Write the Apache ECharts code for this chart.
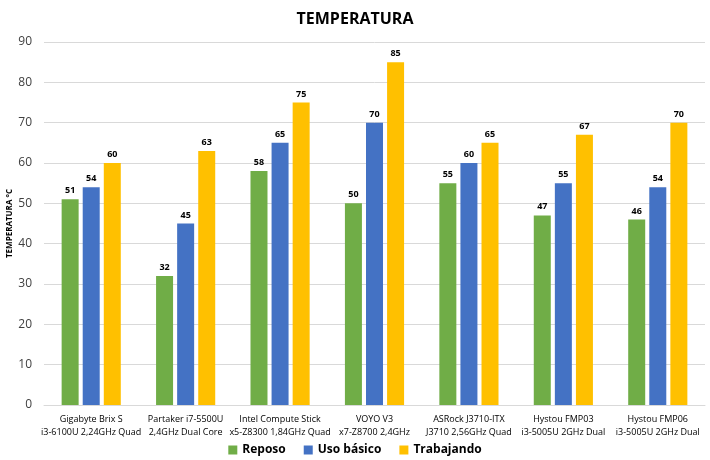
<!DOCTYPE html>
<html><head><meta charset="utf-8">
<script src="https://cdn.jsdelivr.net/npm/echarts@6/dist/echarts.min.js"></script>
<style>html,body{margin:0;padding:0;background:#fff}#c{width:710px;height:460px}</style>
</head><body><div id="c"></div>
<script>
const categories = [
  "Gigabyte Brix S\ni3-6100U 2,24GHz Quad",
  "Partaker i7-5500U\n2,4GHz Dual Core",
  "Intel Compute Stick\nx5-Z8300 1,84GHz Quad",
  "VOYO V3\nx7-Z8700 2,4GHz",
  "ASRock J3710-ITX\nJ3710 2,56GHz Quad",
  "Hystou FMP03\ni3-5005U 2GHz Dual",
  "Hystou FMP06\ni3-5005U 2GHz Dual"
];
const reposo = [51, 32, 58, 50, 55, 47, 46];
const usoBasico = [54, 45, 65, 70, 60, 55, 54];
const trabajando = [60, 63, 75, 85, 65, 67, 70];
const seriesNames = ["Reposo", "Uso básico", "Trabajando"];
const colors = ["#70AD47", "#4472C4", "#FFC000"];

const font = "'Open Sans', 'Noto Sans', sans-serif";
const chart = echarts.init(document.getElementById('c'));
const lbl = {show: true, position: 'top', fontSize: 9, fontWeight: 'bold', color: '#000', fontFamily: font, distance: 4};
chart.setOption({
  animation: false,
  title: {text: 'TEMPERATURA', left: 'center', top: 6, textStyle: {fontSize: 16, fontWeight: 'bold', color: '#000', fontFamily: font}},
  legend: {top: 439, left: 'center', itemWidth: 9, itemHeight: 9, itemGap: 18, icon: 'rect',
    textStyle: {fontSize: 12, fontWeight: 'bold', color: '#000', fontFamily: font}},
  grid: {left: 44, right: 5, top: 42, bottom: 55, containLabel: false, outerBoundsMode: 'none'},
  xAxis: {type: 'category', data: categories,
    axisLine: {lineStyle: {color: '#d9d9d9'}}, axisTick: {show: false},
    axisLabel: {fontSize: 9, color: '#000', fontFamily: font, interval: 0, lineHeight: 13, margin: 8}},
  yAxis: {type: 'value', min: 0, max: 90, interval: 10,
    name: 'TEMPERATURA °C', nameLocation: 'middle', nameGap: 34, nameRotate: 90, nameMoveOverlap: false,
    nameTextStyle: {fontSize: 8, fontWeight: 'bold', color: '#000', fontFamily: font, verticalAlign: 'middle'},
    axisLine: {show: false}, axisTick: {show: false},
    axisLabel: {fontSize: 12, color: '#404040', fontFamily: font, margin: 12},
    splitLine: {lineStyle: {color: '#d9d9d9'}}},
  series: [
    {name: seriesNames[0], type: 'bar', data: reposo, itemStyle: {color: colors[0]}, barWidth: 17, barGap: '24%', label: lbl},
    {name: seriesNames[1], type: 'bar', data: usoBasico, itemStyle: {color: colors[1]}, barWidth: 17, barGap: '24%', label: lbl},
    {name: seriesNames[2], type: 'bar', data: trabajando, itemStyle: {color: colors[2]}, barWidth: 17, barGap: '24%', label: lbl}
  ]
});
</script></body></html>
